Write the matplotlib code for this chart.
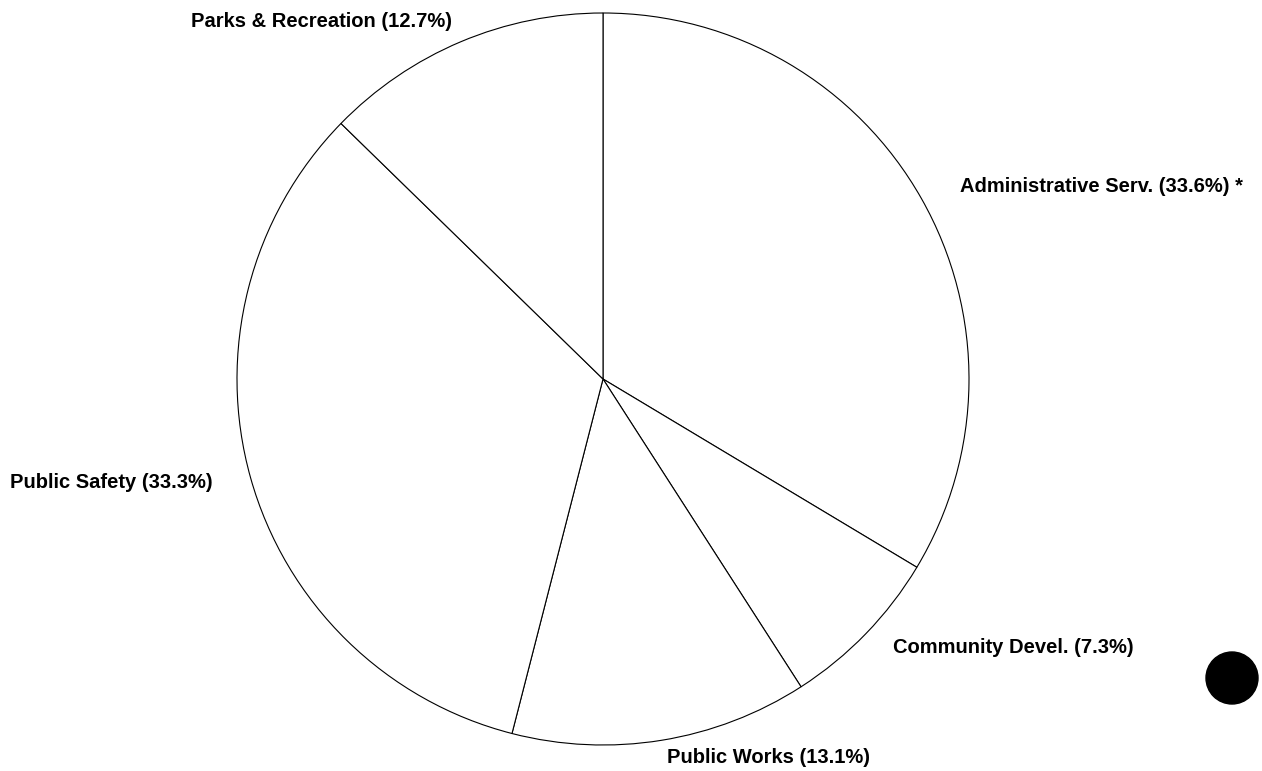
import matplotlib
matplotlib.use("Agg")
import matplotlib.pyplot as plt
from matplotlib.patches import Circle

# slices, clockwise from 12 o'clock
categories = ["Administrative Serv.", "Community Devel.", "Public Works",
              "Public Safety", "Parks & Recreation"]
shares = [33.6, 7.3, 13.1, 33.3, 12.7]
suffixes = [" *", "", "", "", ""]

W, H = 1262, 771


def main():
    fig = plt.figure(figsize=(W / 100, H / 100), dpi=100)
    ax = fig.add_axes([0, 0, 1, 1])

    # pie in pixel units (y measured from the bottom)
    cx, cy, r = 603, H - 379, 366
    ax.pie(shares, startangle=90, counterclock=False, center=(cx, cy),
           radius=r, colors=["white"] * len(shares),
           wedgeprops={"edgecolor": "black", "linewidth": 0.8},
           frame=True)
    ax.set_xlim(0, W)
    ax.set_ylim(0, H)
    ax.set_aspect("auto")
    ax.axis("off")

    # label anchors (left edge, baseline), in picture pixels
    spots = [(960, 192), (893, 653), (667, 763), (10, 488), (191, 27)]
    for name, val, suf, (px, py) in zip(categories, shares, suffixes, spots):
        ax.text(px, H - py, f"{name} ({val}%){suf}", ha="left",
                va="baseline", fontsize=14.5, fontweight="bold",
                family="Liberation Sans", color="black")

    ax.add_patch(Circle((1232, H - 678), 26, color="black"))

    fig.savefig("out.png", dpi=100)


if __name__ == "__main__":
    main()
